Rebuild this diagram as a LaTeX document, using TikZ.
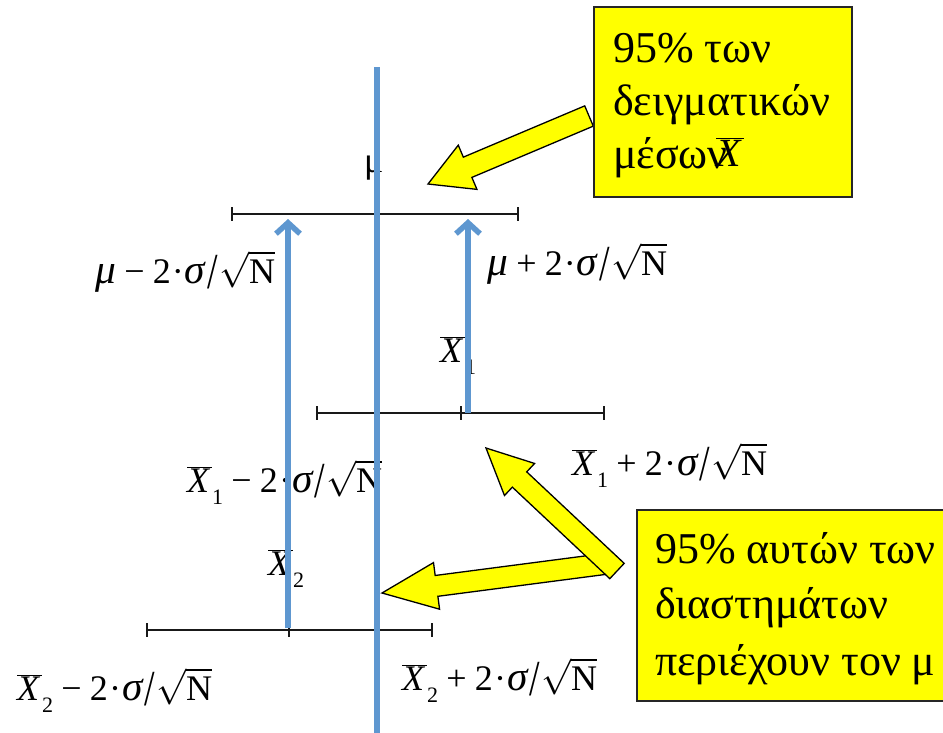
\RequirePackage{fix-cm}
\documentclass[tikz,border=0pt]{standalone}
\usepackage{fontspec}
\usepackage{graphicx}
\setmainfont{Liberation Serif}
\usetikzlibrary{arrows.meta,calc}
\definecolor{bluel}{RGB}{94,151,208}
\definecolor{yel}{RGB}{255,255,0}
\newcommand\sqN{\ensuremath{\sqrt{\hbox{N}}}}
\newcommand\oX{\ensuremath{\overline{\hbox{\itshape X\kern0.08em}}}}
\newcommand\fsub[1]{\raisebox{-0.35em}{\fontsize{22}{22}\selectfont #1}}
\newcommand\bop[1]{\kern0.23em#1\kern0.23em}
\newcommand\gi[1]{\scalebox{1.15}{\itshape #1}}
\newcommand\slsh{\kern0.05em\raisebox{-0.14em}{\scalebox{1.05}[1.4]{/}}\kern0.04em}
\newcommand\cdt{\kern0.03em·\kern0.03em}
\newcommand\blockarr[5]{%
  \coordinate (ya-n) at ($(#2)!#5!(#1)$);
  \draw[yarr] ($(#1)!#3!90:(#2)$) -- ($(ya-n)!#3!90:(#2)$) -- ($(ya-n)!#4!90:(#2)$)
    -- (#2) -- ($(ya-n)!#4!-90:(#2)$) -- ($(ya-n)!#3!-90:(#2)$) -- ($(#1)!#3!-90:(#2)$) -- cycle;}
\begin{document}
\begin{tikzpicture}[x=1pt,y=-1pt,
  formula/.style={font=\fontsize{36}{40}\selectfont, inner sep=0pt, anchor=base west},
  boxtxt/.style={font=\fontsize{44}{53}\selectfont, inner sep=0pt, anchor=base west},
  ybox/.style={fill=yel, draw=black!85, line width=1.3pt},
  yarr/.style={fill=yel, draw=black, line width=1.3pt, line join=miter},
  ival/.style={line width=1.6pt, draw=black!90},
  bline/.style={line width=6pt, draw=bluel},
  barrow/.style={line width=5.5pt, draw=bluel, -{Straight Barb[length=11pt,width=24pt]}}]
\clip (0,0) rectangle (943,732);
\fill[white] (0,0) rectangle (943,732);
% coordinates
\coordinate (tL) at (232,214); \coordinate (tC) at (376,214); \coordinate (tR) at (518,214);
\coordinate (mL) at (317,413); \coordinate (mC) at (461,413); \coordinate (mR) at (604,413);
\coordinate (bL) at (147,630); \coordinate (bC) at (289,630); \coordinate (bR) at (432,630);
\coordinate (mtop) at (377,67); \coordinate (mbot) at (377,740);
\coordinate (la0) at (288,628); \coordinate (la1) at (288,219);
\coordinate (ra0) at (468,413); \coordinate (ra1) at (468,219);
% intervals
\foreach \a/\b in {tL/tR,mL/mR,bL/bR} \draw[ival] (\a) -- (\b);
\foreach \p in {tL,tC,tR,mL,mC,mR,bL,bC,bR} \draw[ival] ($(\p)+(0,-7)$) -- ($(\p)+(0,7)$);
% labels
\node[font=\fontsize{36}{40}\selectfont, inner sep=0pt, anchor=base west] (mu) at (364,172) {μ};
\node[formula] (f1) at (95,283) {\gi{μ}\bop{−}2\cdt\gi{σ}\slsh\sqN};
\node[formula] (f2) at (487,275) {\gi{μ}\bop{+}2\cdt\gi{σ}\slsh\sqN};
\node[formula] (x1) at (440,362) {\oX\fsub{1}};
\node[formula] (f3) at (187,492) {\oX\fsub{1}\bop{−}2\cdt\gi{σ}\slsh\sqN};
\node[formula] (f4) at (572,475) {\oX\fsub{1}\bop{+}2\cdt\gi{σ}\slsh\sqN};
\node[formula] (x2) at (268,575) {\oX\fsub{2}};
\node[formula] (f5) at (17,700) {\oX\fsub{2}\bop{−}2\cdt\gi{σ}\slsh\sqN};
\node[formula] (f6) at (402,690) {\oX\fsub{2}\bop{+}2\cdt\gi{σ}\slsh\sqN};
% blue lines
\draw[bline] (mtop) -- (mbot);
\draw[barrow] (la0) -- (la1);
\draw[barrow] (ra0) -- (ra1);
% yellow block arrows
\coordinate (a1t) at (589,116); \coordinate (a1h) at (428,184);
\blockarr{a1t}{a1h}{11pt}{24pt}{43pt}
\coordinate (a2t) at (612,563); \coordinate (a2h) at (382,593);
\blockarr{a2t}{a2h}{10.5pt}{23.5pt}{55pt}
\coordinate (a3t) at (617,571); \coordinate (a3h) at (486,448);
\blockarr{a3t}{a3h}{10.5pt}{22pt}{46pt}
% boxes
\draw[ybox] (594,7) rectangle (852,197);
\node[boxtxt] (b1a) at (613,62) {95\% των};
\node[boxtxt] (b1b) at (613,115) {δειγματικών};
\node[boxtxt] (b1c) at (613,168) {μέσων};
\node[font=\fontsize{40}{44}\selectfont, inner sep=0pt, anchor=base west] (b1x) at (716,166) {\oX};
\draw[ybox] (637,510) rectangle (960,701);
\node[boxtxt] (b2a) at (655,563) {95\% αυτών των};
\node[boxtxt] (b2b) at (655,618) {διαστημάτων};
\node[boxtxt] (b2c) at (655,675) {περιέχουν τον μ};
\end{tikzpicture}
\end{document}
